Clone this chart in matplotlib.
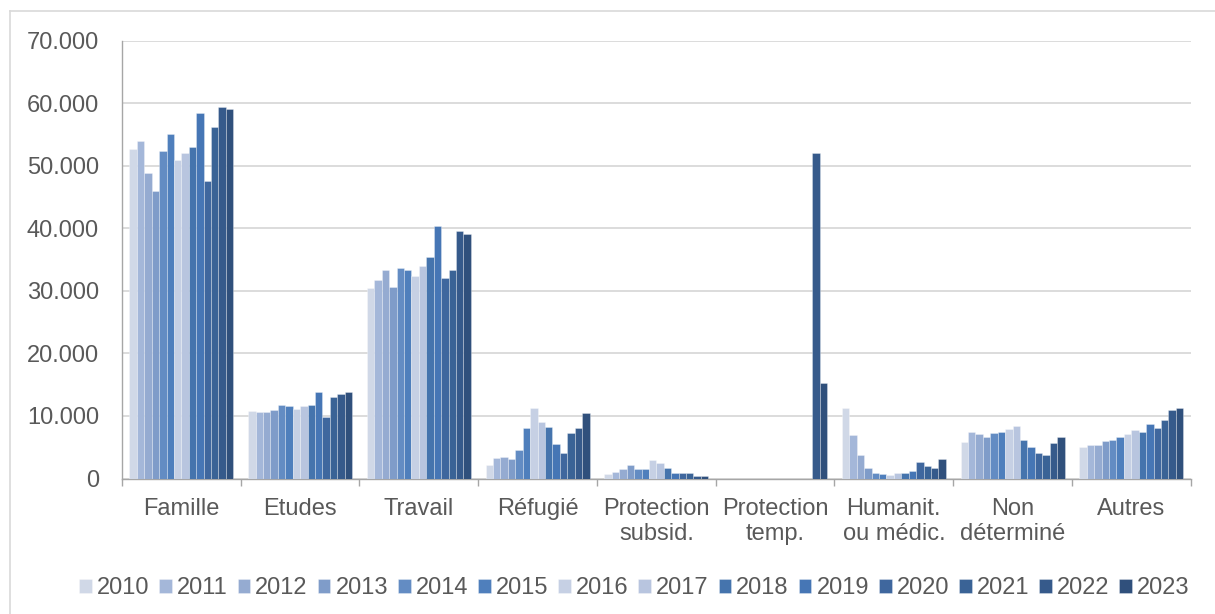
import numpy as np
import matplotlib
matplotlib.use("Agg")
import matplotlib.pyplot as plt
from matplotlib.lines import Line2D
from matplotlib.ticker import FuncFormatter, FixedLocator

plt.rcParams["font.family"] = ["Liberation Sans", "DejaVu Sans"]

categories = ["Famille", "Etudes", "Travail", "Réfugié", "Protection\nsubsid.",
              "Protection\ntemp.", "Humanit.\nou médic.", "Non\ndéterminé", "Autres"]
years = list(range(2010, 2024))

# values per year, in category order
famille = [52.7, 53.9, 48.8, 46.0, 52.4, 55.1, 50.9, 52.0, 53.0, 58.4, 47.6, 56.1, 59.4, 59.0]
etudes = [10.85, 10.6, 10.7, 10.9, 11.7, 11.65, 11.1, 11.65, 11.7, 13.9, 9.8, 13.1, 13.5, 13.8]
travail = [30.4, 31.8, 33.4, 30.6, 33.7, 33.3, 32.4, 34.0, 35.4, 40.3, 32.1, 33.4, 39.5, 39.1]
refugie = [2.2, 3.2, 3.4, 3.1, 4.5, 8.0, 11.2, 9.0, 8.2, 5.5, 4.1, 7.2, 8.1, 10.4]
prot_subsid = [0.75, 1.0, 1.5, 2.1, 1.5, 1.5, 3.0, 2.45, 1.75, 0.95, 0.8, 0.95, 0.45, 0.45]
prot_temp = [0, 0, 0, 0, 0, 0, 0, 0, 0, 0, 0, 0, 52.0, 15.2]
humanit = [11.2, 7.0, 3.8, 1.6, 0.8, 0.65, 0.6, 0.8, 0.95, 1.2, 2.7, 2.0, 1.65, 3.1]
non_det = [5.9, 7.4, 7.1, 6.6, 7.3, 7.4, 7.9, 8.4, 6.2, 5.0, 4.0, 3.7, 5.7, 6.7]
autres = [5.0, 5.3, 5.3, 6.0, 6.1, 6.6, 7.1, 7.7, 7.5, 8.7, 8.1, 9.3, 10.9, 11.2]

colors = ["#D0D8E7", "#A4B7D9", "#95ABD1", "#7F9CC9", "#638CC3", "#4F7FBC", "#C6D0E4",
          "#B8C5DF", "#4574AD", "#4676B5", "#3F679E", "#3A6396", "#365A8B", "#30507C"]

series = np.array([famille, etudes, travail, refugie, prot_subsid,
                   prot_temp, humanit, non_det, autres]) * 1000  # (cat, year)

fig = plt.figure(figsize=(12.15, 6.14), dpi=100)
ax = fig.add_axes([122 / 1215, 1 - 478.5 / 614, (1190.7 - 122) / 1215, (478.5 - 40.5) / 614])

# light outer frame (top and left visible)
fig.add_artist(Line2D([10.5 / 1215, 1.0], [1 - 11 / 614] * 2, color="#D9D9D9", lw=1.2))
fig.add_artist(Line2D([10.5 / 1215] * 2, [0, 1 - 11 / 614], color="#D9D9D9", lw=1.2))

x = np.arange(len(categories))
w = 1 / 16
for j, yr in enumerate(years):
    ax.bar(x + (j - 6.5) * w, series[:, j], width=w, color=colors[j],
           edgecolor=(1, 1, 1, 0.35), linewidth=0.6, label=str(yr), zorder=3)

ax.set_xlim(-0.5, len(categories) - 0.5)
ax.set_ylim(0, 70000)
ax.set_yticks(np.arange(0, 70001, 10000))
ax.yaxis.set_major_formatter(FuncFormatter(lambda v, p: f"{int(v):,}".replace(",", ".")))
ax.yaxis.grid(True, color="#D9D9D9", lw=1.3, zorder=0)

ax.set_xticks(x)
ax.set_xticklabels(categories)
ax.xaxis.set_minor_locator(FixedLocator(np.arange(-0.5, len(categories), 1.0)))
ax.tick_params(axis="x", which="major", length=0, pad=14, labelsize=17, labelcolor="#595959")
ax.tick_params(axis="x", which="minor", length=5, width=1, color="#A6A6A6")
ax.tick_params(axis="y", length=0, pad=16.5, labelsize=17, labelcolor="#595959")

for side in ("top", "right"):
    ax.spines[side].set_visible(False)
for side in ("left", "bottom"):
    ax.spines[side].set_color("#A6A6A6")
    ax.spines[side].set_linewidth(1)

fig.legend(loc="center", bbox_to_anchor=(0.522, 1 - 588.5 / 614), ncol=14, frameon=False,
           fontsize=17, labelcolor="#595959", handlelength=0.54, handleheight=0.54,
           handletextpad=0.21, columnspacing=0.42, borderpad=0)

fig.savefig("out.png", dpi=100)
